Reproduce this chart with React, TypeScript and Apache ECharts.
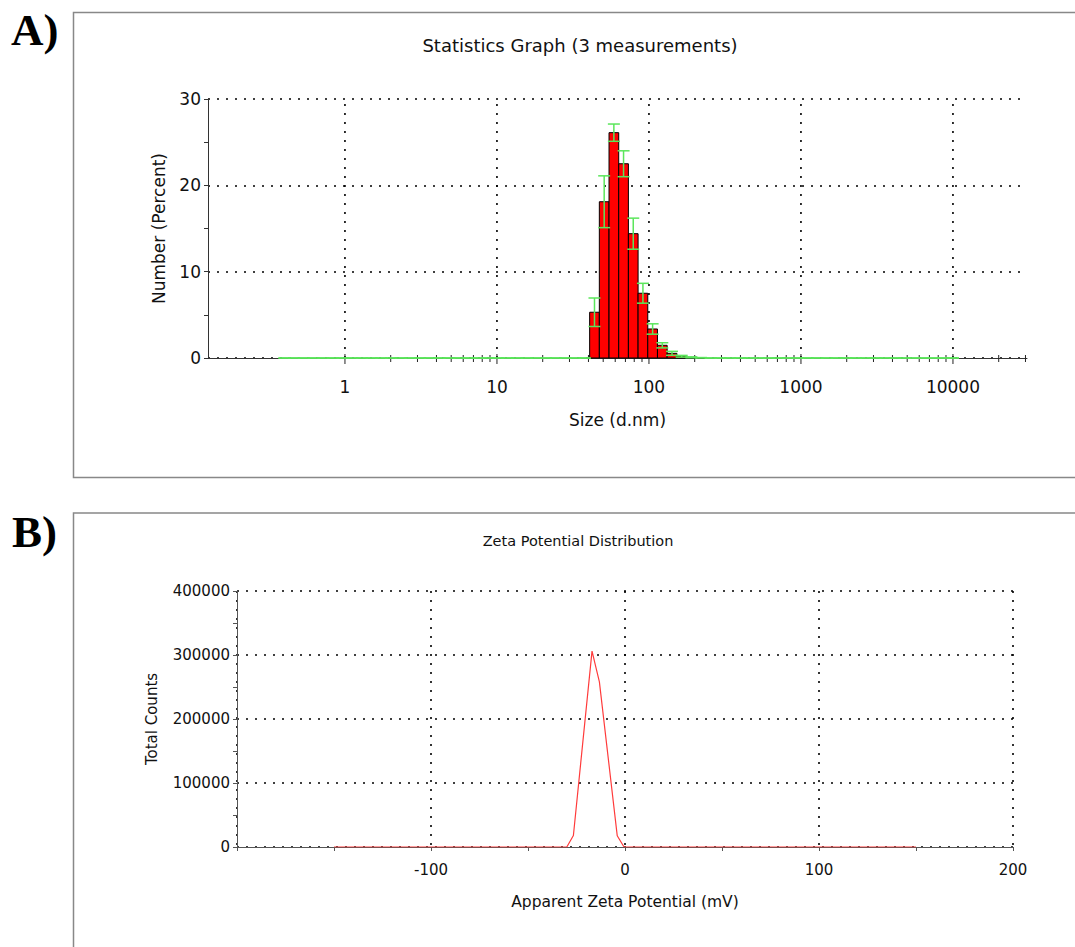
import React, { useEffect, useRef } from 'react';
import * as echarts from 'echarts';

// Panel A: size distribution by number (Malvern size classes, d.nm)
const sizeClassesNm = [
  0.4, 0.4632, 0.5365, 0.6213, 0.7195, 0.8332, 0.9649, 1.117, 1.294, 1.499,
  1.736, 2.01, 2.328, 2.696, 3.122, 3.615, 4.187, 4.849, 5.615, 6.503,
  7.531, 8.721, 10.1, 11.7, 13.54, 15.69, 18.17, 21.04, 24.36, 28.21,
  32.67, 37.84, 43.82, 50.75, 58.77, 68.06, 78.82, 91.28, 105.7, 122.4,
  141.8, 164.2, 190.1, 220.2, 255.0, 295.3, 342.0, 396.1, 458.7, 531.2,
  615.1, 712.4, 825.0, 955.4, 1106, 1281, 1484, 1718, 1990, 2305,
  2669, 3091, 3580, 4145, 4801, 5560, 6439, 7456, 8635, 10000,
];
const numberPercent = [
  0, 0, 0, 0, 0, 0, 0, 0, 0, 0,
  0, 0, 0, 0, 0, 0, 0, 0, 0, 0,
  0, 0, 0, 0, 0, 0, 0, 0, 0, 0,
  0, 0, 5.3, 18.1, 26.1, 22.5, 14.4, 7.5, 3.36, 1.47,
  0.54, 0.2, 0.08, 0.03, 0, 0, 0, 0, 0, 0,
  0, 0, 0, 0, 0, 0, 0, 0, 0, 0,
  0, 0, 0, 0, 0, 0, 0, 0, 0, 0,
];
const numberSd = [
  0, 0, 0, 0, 0, 0, 0, 0, 0, 0,
  0, 0, 0, 0, 0, 0, 0, 0, 0, 0,
  0, 0, 0, 0, 0, 0, 0, 0, 0, 0,
  0, 0, 1.65, 3.0, 1.0, 1.5, 1.8, 1.15, 0.6, 0.3,
  0.23, 0.1, 0.05, 0.02, 0, 0, 0, 0, 0, 0,
  0, 0, 0, 0, 0, 0, 0, 0, 0, 0,
  0, 0, 0, 0, 0, 0, 0, 0, 0, 0,
];
const sizeMajorTicks = [1, 10, 100, 1000, 10000];
const sizeTickLabels = ['1', '10', '100', '1000', '10000'];
const sizeMinorSteps = [2, 3, 4, 5, 6, 7, 8, 9];
const sizeAxisMax = 30700;
const numberTicks = [0, 10, 20, 30];

// Panel B: zeta potential distribution
const zetaMv = [-150, -30, -26.6, -17, -13.2, -4, -0.5, 150];
const totalCounts = [0, 0, 18000, 306000, 258000, 17600, 0, 0];
const zetaLabelTicks = [-100, 0, 100, 200];
const countTicks = [0, 100000, 200000, 300000, 400000];

const FONT = '"DejaVu Sans", Arial, sans-serif';
const DOT = [2, 7];

export default function App() {
  const ref = useRef<HTMLDivElement>(null);

  useEffect(() => {
    document.body.style.margin = '0';
    const chart = echarts.init(ref.current!, undefined, { renderer: 'svg' });

    const allSizeTicks: number[] = [];
    sizeMajorTicks.forEach((m) => {
      allSizeTicks.push(m);
      sizeMinorSteps.forEach((k) => {
        if (m * k <= sizeAxisMax) allSizeTicks.push(m * k);
      });
    });

    const option: any = {
      animation: false,
      backgroundColor: '#fff',
      grid: [
        { left: 208, right: 48, top: 99, bottom: 589 },
        { left: 237, right: 62, top: 591, bottom: 100 },
      ],
      xAxis: [
        {
          type: 'log',
          logBase: 10,
          gridIndex: 0,
          min: 0.1256,
          max: sizeAxisMax,
          name: 'Size (d.nm)',
          nameLocation: 'middle',
          nameGap: 53,
          nameTextStyle: { fontFamily: FONT, fontSize: 17, color: '#111' },
          axisLine: { lineStyle: { color: '#333', width: 1 } },
          axisTick: { show: false },
          splitLine: { show: false },
          axisLabel: {
            customValues: sizeMajorTicks,
            margin: 20,
            fontFamily: FONT,
            fontSize: 17,
            color: '#111',
            formatter: (v: number) => {
              const i = sizeMajorTicks.findIndex((m) => Math.abs(m - v) / m < 1e-6);
              return i >= 0 ? sizeTickLabels[i] : '';
            },
          },
        },
        {
          type: 'value',
          gridIndex: 1,
          min: -200,
          max: 200,
          interval: 100,
          name: 'Apparent Zeta Potential (mV)',
          nameLocation: 'middle',
          nameGap: 47,
          nameTextStyle: { fontFamily: FONT, fontSize: 15.5, color: '#111' },
          axisLine: { onZero: false, lineStyle: { color: '#555', width: 1 } },
          axisTick: { show: true, length: 4, lineStyle: { color: '#555' } },
          minorTick: { show: true, splitNumber: 2, length: 4, lineStyle: { color: '#555' } },
          splitLine: { show: true, lineStyle: { color: '#000', type: DOT, width: 1.6 } },
          axisLabel: {
            margin: 15,
            fontFamily: FONT,
            fontSize: 15,
            color: '#111',
            customValues: zetaLabelTicks,
            formatter: (v: number) => String(v),
          },
        },
      ],
      yAxis: [
        {
          type: 'value',
          gridIndex: 0,
          min: numberTicks[0],
          max: numberTicks[numberTicks.length - 1],
          interval: 10,
          name: 'Number (Percent)',
          nameLocation: 'middle',
          nameGap: 41,
          nameTextStyle: { fontFamily: FONT, fontSize: 17, color: '#111' },
          axisLine: { show: true, onZero: false, lineStyle: { color: '#333', width: 1 } },
          axisTick: { show: true, length: 4, lineStyle: { color: '#333' } },
          minorTick: { show: true, splitNumber: 2, length: 4, lineStyle: { color: '#333' } },
          splitLine: { show: true, lineStyle: { color: '#000', type: DOT, width: 1.6 } },
          axisLabel: { margin: 7, fontFamily: FONT, fontSize: 17, color: '#111' },
        },
        {
          type: 'value',
          gridIndex: 1,
          min: countTicks[0],
          max: countTicks[countTicks.length - 1],
          interval: 100000,
          name: 'Total Counts',
          nameLocation: 'middle',
          nameGap: 78,
          nameTextStyle: { fontFamily: FONT, fontSize: 15, color: '#111' },
          axisLine: { show: true, onZero: false, lineStyle: { color: '#555', width: 1 } },
          axisTick: { show: true, length: 4, lineStyle: { color: '#555' } },
          minorTick: { show: true, splitNumber: 2, length: 4, lineStyle: { color: '#555' } },
          splitLine: { show: true, lineStyle: { color: '#000', type: DOT, width: 1.6 } },
          axisLabel: {
            margin: 7,
            fontFamily: FONT,
            fontSize: 15,
            color: '#111',
            formatter: (v: number) => String(v),
          },
        },
      ],
      graphic: [
        {
          type: 'rect',
          shape: { x: 73.5, y: 12.5, width: 1020, height: 465 },
          style: { fill: 'none', stroke: '#888', lineWidth: 1.5 },
          silent: true,
        },
        {
          type: 'rect',
          shape: { x: 73.5, y: 513, width: 1020, height: 450 },
          style: { fill: 'none', stroke: '#888', lineWidth: 1.5 },
          silent: true,
        },
        {
          type: 'text',
          x: 11,
          y: 30,
          style: {
            text: 'A)',
            fill: '#000',
            fontFamily: '"Liberation Serif", "Times New Roman", serif',
            fontWeight: 'bold',
            fontSize: 45,
            align: 'left',
            verticalAlign: 'middle',
          },
        },
        {
          type: 'text',
          x: 12,
          y: 532,
          style: {
            text: 'B)',
            fill: '#000',
            fontFamily: '"Liberation Serif", "Times New Roman", serif',
            fontWeight: 'bold',
            fontSize: 45,
            align: 'left',
            verticalAlign: 'middle',
          },
        },
        {
          type: 'text',
          x: 580,
          y: 45,
          style: {
            text: 'Statistics Graph (3 measurements)',
            fill: '#111',
            fontFamily: FONT,
            fontSize: 18,
            align: 'center',
            verticalAlign: 'middle',
          },
        },
        {
          type: 'text',
          x: 578,
          y: 541,
          style: {
            text: 'Zeta Potential Distribution',
            fill: '#111',
            fontFamily: FONT,
            fontSize: 14.5,
            align: 'center',
            verticalAlign: 'middle',
          },
        },
      ],
      series: [
        // vertical dotted grid lines and axis ticks on the log size axis
        {
          type: 'custom',
          xAxisIndex: 0,
          yAxisIndex: 0,
          z: 1,
          silent: true,
          clip: false,
          data: allSizeTicks.map((v) => [v, 0]),
          renderItem: (params: any, api: any) => {
            const v = api.value(0);
            const p0 = api.coord([v, numberTicks[0]]);
            const p1 = api.coord([v, numberTicks[numberTicks.length - 1]]);
            const major = sizeMajorTicks.some((m) => Math.abs(m - v) / m < 1e-6);
            const children: any[] = [
              {
                type: 'line',
                shape: { x1: p0[0], y1: p0[1] - (major ? 4 : 3), x2: p0[0], y2: p0[1] + (major ? 6 : 4) },
                style: { stroke: '#222', lineWidth: 1 },
                z2: 20,
              },
            ];
            if (major) {
              children.push({
                type: 'line',
                shape: { x1: p0[0], y1: p0[1], x2: p1[0], y2: p1[1] },
                style: { stroke: '#000', lineWidth: 1.6, lineDash: DOT },
              });
            }
            return { type: 'group', children };
          },
        },
        // histogram bars
        {
          type: 'custom',
          xAxisIndex: 0,
          yAxisIndex: 0,
          z: 3,
          data: sizeClassesNm.map((s, i) => [s, numberPercent[i]]),
          renderItem: (params: any, api: any) => {
            const i = params.dataIndex;
            const s = api.value(0);
            const v = api.value(1);
            if (!(v > 0)) return null;
            const prev = i > 0 ? sizeClassesNm[i - 1] : s / (sizeClassesNm[1] / sizeClassesNm[0]);
            const next = i < sizeClassesNm.length - 1 ? sizeClassesNm[i + 1] : s * (sizeClassesNm[1] / sizeClassesNm[0]);
            const lo = Math.sqrt(prev * s);
            const hi = Math.sqrt(s * next);
            const a = api.coord([lo, 0]);
            const b = api.coord([hi, v]);
            return {
              type: 'rect',
              shape: { x: a[0], y: b[1], width: b[0] - a[0], height: a[1] - b[1] },
              style: { fill: '#ff0000', stroke: '#000', lineWidth: 1 },
            };
          },
        },
        // error bars (standard deviation of the 3 measurements)
        {
          type: 'custom',
          xAxisIndex: 0,
          yAxisIndex: 0,
          z: 4,
          clip: false,
          data: sizeClassesNm.map((s, i) => [s, numberPercent[i], numberSd[i]]),
          renderItem: (params: any, api: any) => {
            const s = api.value(0);
            const v = api.value(1);
            const sd = api.value(2);
            const top = api.coord([s, v + sd]);
            const bot = api.coord([s, Math.max(0, v - sd)]);
            const hw = 6;
            const st = { stroke: '#5be65b', lineWidth: 1.5 };
            return {
              type: 'group',
              children: [
                { type: 'line', shape: { x1: top[0], y1: top[1], x2: top[0], y2: bot[1] }, style: st },
                { type: 'line', shape: { x1: top[0] - hw, y1: top[1], x2: top[0] + hw, y2: top[1] }, style: st },
                { type: 'line', shape: { x1: bot[0] - hw, y1: bot[1], x2: bot[0] + hw, y2: bot[1] }, style: st },
              ],
            };
          },
        },
        // zeta potential distribution
        {
          type: 'line',
          xAxisIndex: 1,
          yAxisIndex: 1,
          z: 3,
          data: zetaMv.map((x, i) => [x, totalCounts[i]]),
          showSymbol: false,
          symbol: 'none',
          lineStyle: { color: '#ff3b3b', width: 1.2 },
        },
      ],
    };

    chart.setOption(option);
    return () => chart.dispose();
  }, []);

  return <div ref={ref} style={{ width: 1075, height: 947 }} />;
}
